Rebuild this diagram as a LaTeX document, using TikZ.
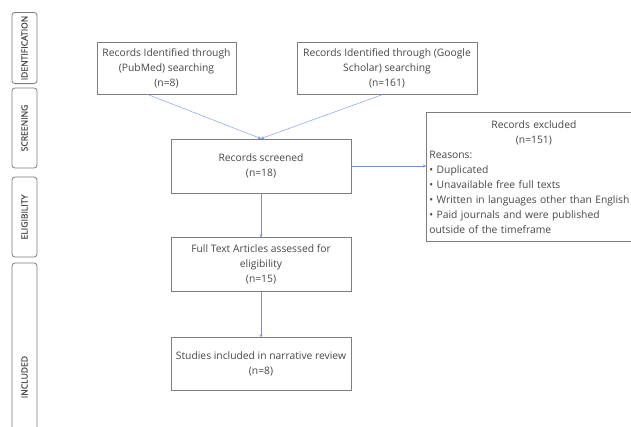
\documentclass[tikz,border=0pt]{standalone}
\usepackage{fontspec}
\setmainfont{Open Sans}
\newfontfamily\phasefont[FakeBold=0.7]{Open Sans}
\usetikzlibrary{positioning}
\usetikzlibrary{arrows.meta}
\definecolor{txtgray}{RGB}{70,70,70}
\definecolor{boxgray}{RGB}{125,125,125}
\definecolor{linkblue}{RGB}{110,140,250}

\begin{document}
\begin{tikzpicture}
	[	x=1pt, y=-1pt,
		font=\fontsize{10.3}{15}\selectfont,
		block/.style={rectangle,draw=boxgray,thick,text=txtgray,align=center,inner sep=3pt},
		note/.style={rectangle,draw=boxgray,thick,text=txtgray,inner sep=3pt},
		phase/.style={rectangle,rounded corners=3pt,draw=boxgray,thick,text=txtgray,rotate=90,
			minimum height=25pt,font=\phasefont\fontsize{8.6}{10}\selectfont},
		vec/.style={-{Stealth[length=3pt,width=3pt]},draw=linkblue,thin}	]
	\useasboundingbox (0,0) rectangle (631,426);
	% phases on the left
	\node[phase,minimum width=70pt] (ident) at (24.5,48) {IDENTIFICATION};
	\node[phase,minimum width=80pt] (screening) at (24.5,128) {SCREENING};
	\node[phase,minimum width=80pt] (elig) at (24.5,217) {ELIGIBILITY};
	\node[phase,minimum width=228pt] (incl) at (24.5,377) {INCLUDED};
	% flow
	\node[block,minimum width=139pt,minimum height=52pt] (pubmed) at (166.5,68)
		{Records Identified through\\(PubMed) searching\\(n=8)};
	\node[block,minimum width=180pt,minimum height=52pt] (scholar) at (387,68)
		{Records Identified through (Google\\Scholar) searching\\(n=161)};
	\node[block,minimum width=180pt,minimum height=54pt] (screen) at (261,166)
		{Records screened\\(n=18)};
	\node[block,minimum width=180pt,minimum height=54pt] (full) [below=44pt of screen]
		{Full Text Articles assessed for\\eligibility\\(n=15)};
	\node[block,minimum width=180pt,minimum height=53pt] (studies) [below=45pt of full]
		{Studies included in narrative review\\(n=8)};
	\node[note,text width=209pt,minimum height=129pt,anchor=north west,inner ysep=2pt] (excl) at (426,112)
		{{\centering Records excluded\\(n=151)\par}
		 \raggedright Reasons:\\
		 • Duplicated\\
		 • Unavailable free full texts\\
		 • Written in languages other than English\\
		 • Paid journals and were published\\
		 outside of the timeframe};
	\draw[vec] ([xshift=-19pt]pubmed.south) to (screen.north);
	\draw[vec] ([xshift=-4pt]scholar.south) to (screen.north);
	\draw[vec] (screen.east) to (screen.east -| excl.west);
	\draw[vec] (screen) to (full);
	\draw[vec] (full) to (studies);
\end{tikzpicture}
\end{document}
